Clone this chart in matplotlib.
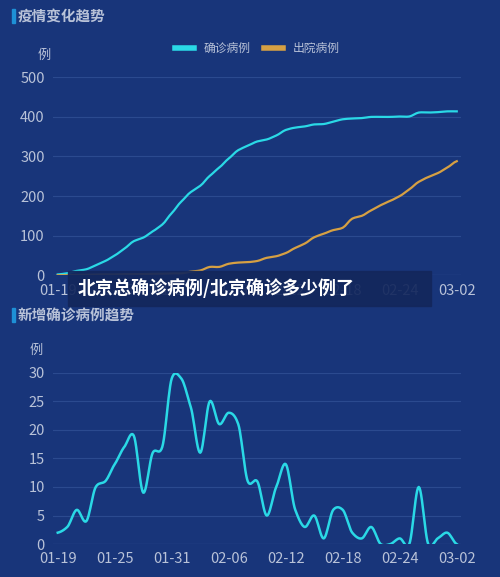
import numpy as np
import matplotlib
matplotlib.use("Agg")
import matplotlib.pyplot as plt
import datetime as dt

plt.rcParams['font.family'] = ['Noto Sans CJK SC', 'DejaVu Sans']

start = dt.date(2019, 1, 19)
dates = [(start + dt.timedelta(days=i)).strftime('%m-%d') for i in range(43)]
confirmed = [2, 5, 11, 15, 25, 36, 50, 67, 86, 95, 111, 128, 157, 186, 210, 226, 251, 272, 295, 316,
             327, 338, 343, 353, 367, 373, 376, 381, 382, 388, 394, 396, 397, 400, 400, 400, 401, 401,
             411, 411, 412, 414, 414]
discharged = [0, 0, 1, 1, 2, 2, 2, 3, 3, 3, 4, 4, 5, 5, 9, 12, 21, 21, 29, 32, 33, 36, 44, 48, 56, 69,
              80, 96, 105, 114, 120, 143, 150, 164, 177, 188, 200, 217, 236, 248, 258, 272, 288]
new_cases = [2, 3, 6, 4, 10, 11, 14, 17, 19, 9, 16, 17, 29, 29, 24, 16, 25, 21, 23, 21, 11, 11, 5, 10,
             14, 6, 3, 5, 1, 6, 6, 2, 1, 3, 0, 0, 1, 0, 10, 0, 1, 2, 0]
tick_idx = [0, 6, 12, 18, 24, 30, 36, 42]

BG = '#18357a'
GRID = '#2b4a8f'
TXT = '#b8c2d8'
CYAN = '#2ad9e6'
ORANGE = '#d6a043'

def smooth(x, y, n=12):
    x = np.asarray(x, float); y = np.asarray(y, float)
    xs, ys = [], []
    for i in range(len(x) - 1):
        y0 = y[i - 1] if i > 0 else y[i]
        y3 = y[i + 2] if i + 2 < len(y) else y[i + 1]
        m1 = (y[i + 1] - y0) / 2 * 0.8
        m2 = (y3 - y[i]) / 2 * 0.8
        t = np.linspace(0, 1, n, endpoint=False)
        h00 = 2*t**3 - 3*t**2 + 1; h10 = t**3 - 2*t**2 + t
        h01 = -2*t**3 + 3*t**2; h11 = t**3 - t**2
        xs.append(x[i] + t * (x[i + 1] - x[i]))
        ys.append(h00*y[i] + h10*m1 + h01*y[i+1] + h11*m2)
    xs.append([x[-1]]); ys.append([y[-1]])
    return np.concatenate(xs), np.concatenate(ys)

fig = plt.figure(figsize=(5, 5.77), dpi=100, facecolor=BG)
x = np.arange(43)

def style(ax, ymax, step):
    ax.set_facecolor(BG)
    for s in ax.spines.values():
        s.set_visible(False)
    ax.set_ylim(0, ymax)
    ax.set_xlim(-0.5, 42.5)
    ax.set_yticks(np.arange(0, ymax + 1, step))
    ax.grid(axis='y', color=GRID, lw=0.8)
    ax.set_axisbelow(True)
    ax.axhline(0, color='#4a66a8', lw=0.8)
    ax.tick_params(colors=TXT, labelsize=10.5, length=0, pad=6)
    ax.set_xticks(tick_idx)
    ax.set_xticklabels([dates[i] for i in tick_idx])

# top
ax1 = fig.add_axes([0.106, 0.523, 0.817, 0.343])
style(ax1, 500, 100)
ax1.plot(*smooth(x, confirmed, 4), color=CYAN, lw=1.6, label='确诊病例')
ax1.plot(*smooth(x, discharged, 4), color=ORANGE, lw=1.6, label='出院病例')
leg = ax1.legend(loc='upper center', bbox_to_anchor=(0.5, 1.235), ncol=2, frameon=False,
                 fontsize=8.5, labelcolor=TXT, handlelength=1.6, handleheight=0.5, columnspacing=1.2)
for l in leg.get_lines():
    l.set_linewidth(4)
fig.text(0.076, 0.898, '例', color=TXT, fontsize=9.5)

# bottom
ax2 = fig.add_axes([0.106, 0.057, 0.817, 0.297])
style(ax2, 30, 5)
ax2.plot(*smooth(x, new_cases, 12), color=CYAN, lw=1.8)
fig.text(0.06, 0.386, '例', color=TXT, fontsize=9.5)

# titles
for y, t in [(0.963, '疫情变化趋势'), (0.444, '新增确诊病例趋势')]:
    fig.patches.append(plt.Rectangle((0.024, y - 0.002), 0.005, 0.024, transform=fig.transFigure,
                                     color='#1e90d6'))
    fig.text(0.036, y, t, color=TXT, fontsize=10.5, weight='bold')

# banner
fig.patches.append(plt.Rectangle((0.136, 0.469), 0.726, 0.062, transform=fig.transFigure,
                                 color='#13275c', alpha=0.92, zorder=10))
fig.text(0.155, 0.500, '北京总确诊病例/北京确诊多少例了', color='white', fontsize=13,
         weight='bold', va='center', zorder=11)

fig.savefig('out.png', dpi=100, facecolor=BG)
